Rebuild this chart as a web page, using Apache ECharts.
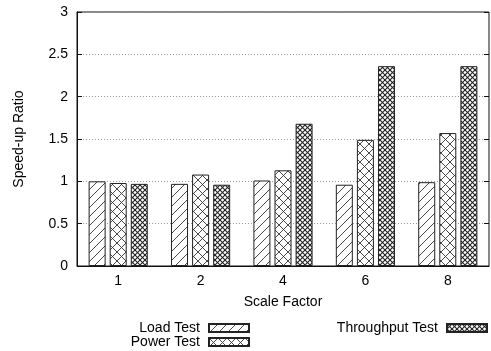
<!DOCTYPE html>
<html><head><meta charset="utf-8">
<script src="https://cdn.jsdelivr.net/npm/echarts@6/dist/echarts.min.js"></script>
<style>html,body{margin:0;padding:0;background:#fff}#c{width:491px;height:351px}</style>
</head><body><div id="c"></div>
<script>
const categories = ['1', '2', '4', '6', '8'];
const loadTest = [1.00, 0.97, 1.01, 0.96, 0.99];
const powerTest = [0.98, 1.08, 1.13, 1.49, 1.57];
const throughputTest = [0.97, 0.96, 1.68, 2.36, 2.36];
const seriesNames = ['Load Test', 'Power Test', 'Throughput Test'];

function makePattern(kind) {
  const size = kind === 'diag' ? 9 : (kind === 'cross' ? 9 : 5);
  const c = document.createElement('canvas');
  c.width = size; c.height = size;
  const g = c.getContext('2d');
  g.fillStyle = '#fff'; g.fillRect(0, 0, size, size);
  g.strokeStyle = kind === 'dense' ? '#222' : '#333';
  g.lineWidth = kind === 'dense' ? 1.1 : 0.9;
  const line = (x1, y1, x2, y2) => { g.beginPath(); g.moveTo(x1, y1); g.lineTo(x2, y2); g.stroke(); };
  line(-1, size + 1, size + 1, -1);
  line(-1, 1, 1, -1);
  line(size - 1, size + 1, size + 1, size - 1);
  if (kind !== 'diag') {
    line(-1, -1, size + 1, size + 1);
    line(size - 1, -1, size + 1, 1);
    line(-1, size - 1, 1, size + 1);
  }
  return { image: c, repeat: 'repeat' };
}
const patterns = [makePattern('diag'), makePattern('cross'), makePattern('dense')];
const font = 'Liberation Sans, Arial, sans-serif';
const legendText = { fontFamily: font, fontSize: 14, color: '#000', padding: [0, 4, 0, 0] };

const chart = echarts.init(document.getElementById('c'));
const values = [loadTest, powerTest, throughputTest];
chart.setOption({
  animation: false,
  backgroundColor: '#fff',
  textStyle: { fontFamily: font, color: '#000' },
  grid: { left: 77, right: 2, top: 12, bottom: 85, show: true, borderColor: '#111', borderWidth: 1 },
  legend: [
    { data: ['Load Test'], right: 241, top: 321, align: 'right', icon: 'rect', itemWidth: 40, itemHeight: 8, padding: 0, textStyle: legendText },
    { data: ['Power Test'], right: 241, top: 335, align: 'right', icon: 'rect', itemWidth: 40, itemHeight: 8, padding: 0, textStyle: legendText },
    { data: ['Throughput Test'], right: 3, top: 321, align: 'right', icon: 'rect', itemWidth: 40, itemHeight: 8, padding: 0, textStyle: legendText }
  ],
  xAxis: [
    { type: 'category', data: categories, position: 'bottom',
      name: 'Scale Factor', nameLocation: 'middle', nameGap: 29,
      nameTextStyle: { fontFamily: font, fontSize: 14, color: '#000' },
      axisLine: { lineStyle: { color: '#111' } },
      axisTick: { inside: true, alignWithLabel: true, length: 5, lineStyle: { color: '#111' } },
      axisLabel: { fontFamily: font, fontSize: 14, color: '#000', margin: 8 } },
    { type: 'category', data: categories, position: 'top',
      axisLine: { show: false },
      axisTick: { inside: true, alignWithLabel: true, length: 5, lineStyle: { color: '#111' } },
      axisLabel: { show: false } }
  ],
  yAxis: [
    { type: 'value', min: 0, max: 3, interval: 0.5,
      name: 'Speed-up Ratio', nameLocation: 'middle', nameGap: 51,
      nameTextStyle: { fontFamily: font, fontSize: 14, color: '#000' },
      axisLine: { show: true, lineStyle: { color: '#111' } },
      axisTick: { show: true, inside: true, length: 5, lineStyle: { color: '#111' } },
      axisLabel: { fontFamily: font, fontSize: 14, color: '#000', margin: 9 },
      splitLine: { show: true, lineStyle: { color: '#999', type: [1, 2], width: 1 } } },
    { type: 'value', min: 0, max: 3, interval: 0.5, position: 'right',
      axisLine: { show: false },
      axisTick: { show: true, inside: true, length: 5, lineStyle: { color: '#111' } },
      axisLabel: { show: false }, splitLine: { show: false } }
  ],
  series: seriesNames.map((n, i) => ({
    name: n, type: 'bar', data: values[i], barWidth: 17, barGap: '24%',
    itemStyle: { color: patterns[i], borderColor: '#222', borderWidth: 1 }
  }))
});
</script></body></html>
